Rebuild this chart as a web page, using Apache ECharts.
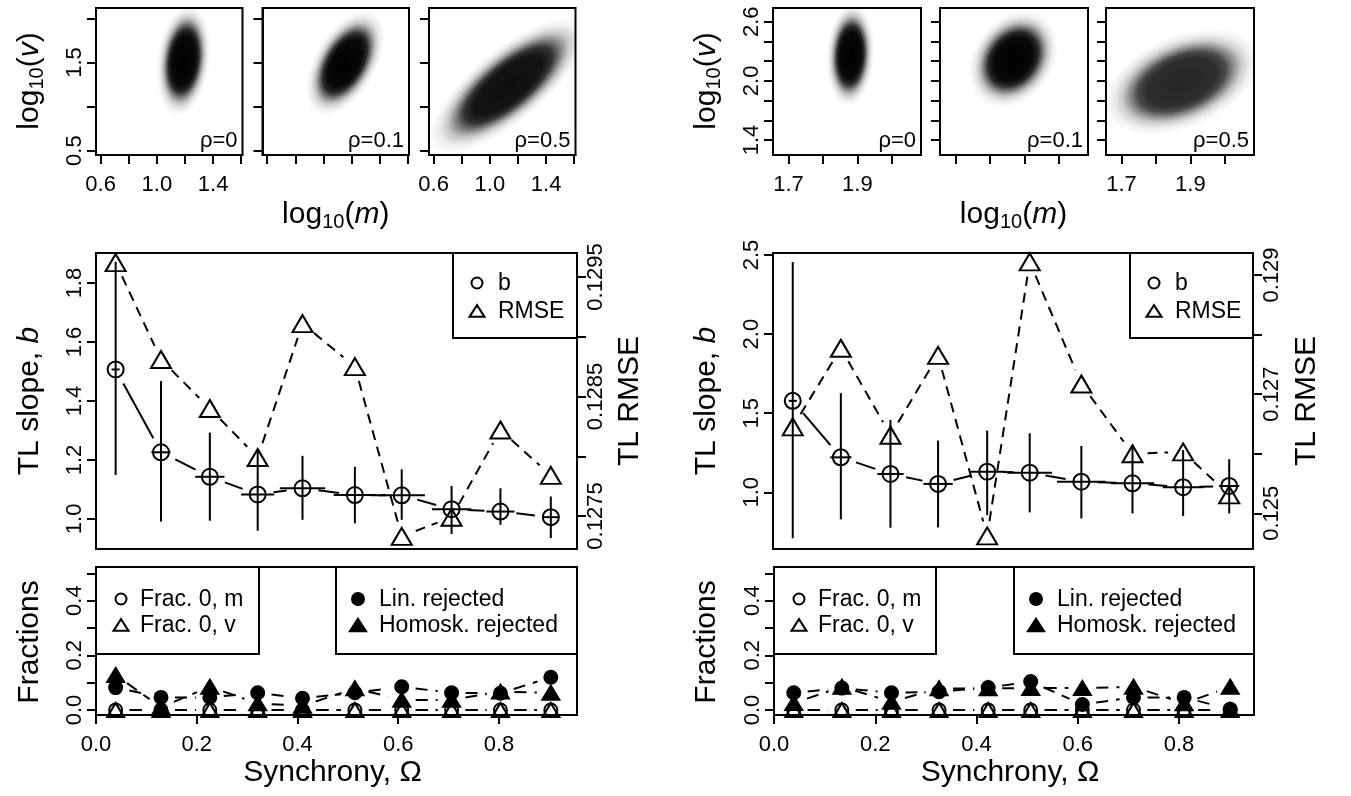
<!DOCTYPE html>
<html><head><meta charset="utf-8"><title>Taylor's law panels</title>
<script src="https://cdn.jsdelivr.net/npm/echarts@6/dist/echarts.min.js"></script>
<style>html,body{margin:0;padding:0;background:#fff}#chart{width:1351px;height:796px}</style>
</head><body><div id="chart"></div>
<script>
// ================= DATA =================
const rhoLabels = ['ρ=0', 'ρ=0.1', 'ρ=0.5'];
// point clouds summarised as bivariate densities
const cloudA_meanM = [1.19, 1.155, 1.13];
const cloudA_meanV = [1.52, 1.49, 1.24];
const cloudA_sdM   = [0.055, 0.08, 0.16];
const cloudA_sdV   = [0.18, 0.17, 0.22];
const cloudA_corr  = [0.2, 0.5, 0.75];
const cloudA_dark  = [1.0, 1.0, 0.95];
const cloudB_meanM = [1.88, 1.868, 1.875];
const cloudB_meanV = [2.26, 2.22, 1.99];
const cloudB_sdM   = [0.02, 0.037, 0.065];
const cloudB_sdV   = [0.15, 0.14, 0.155];
const cloudB_corr  = [0.1, 0.25, 0.4];
const cloudB_dark  = [1.0, 1.0, 0.85];

// left column
const omegaA     = [0.039, 0.129, 0.226, 0.321, 0.410, 0.514, 0.607, 0.706, 0.803, 0.903];
const omegaA_err = [0.008, 0.019, 0.029, 0.033, 0.045, 0.042, 0.046, 0.039, 0.028, 0.017];
const slopeA     = [1.507, 1.226, 1.143, 1.083, 1.104, 1.081, 1.080, 1.033, 1.025, 1.006];
const slopeA_lo  = [1.149, 0.991, 0.994, 0.960, 0.997, 0.985, 0.997, 0.949, 0.980, 0.935];
const slopeA_hi  = [1.872, 1.468, 1.293, 1.235, 1.214, 1.177, 1.168, 1.112, 1.104, 1.076];
const rmseA      = [0.12962, 0.12881, 0.12840, 0.12799, 0.12911, 0.12875, 0.12733, 0.12749, 0.12822, 0.12784];
const frac0mA    = [0, 0, 0, 0, 0, 0, 0, 0, 0, 0];
const frac0vA    = [0, 0, 0, 0, 0, 0, 0, 0, 0, 0];
const linRejA    = [0.082, 0.046, 0.046, 0.063, 0.043, 0.063, 0.085, 0.063, 0.061, 0.120];
const homRejA    = [0.128, 0.010, 0.085, 0.024, 0.015, 0.079, 0.037, 0.037, 0.067, 0.063];

// right column
const omegaB     = [0.039, 0.134, 0.232, 0.326, 0.423, 0.507, 0.609, 0.710, 0.810, 0.901];
const omegaB_err = [0.008, 0.021, 0.026, 0.029, 0.036, 0.044, 0.048, 0.043, 0.040, 0.020];
const slopeB     = [1.578, 1.221, 1.116, 1.053, 1.130, 1.124, 1.067, 1.057, 1.032, 1.040];
const slopeB_lo  = [0.709, 0.829, 0.776, 0.778, 0.856, 0.873, 0.835, 0.867, 0.850, 0.867];
const slopeB_hi  = [2.456, 1.627, 1.458, 1.327, 1.390, 1.373, 1.293, 1.299, 1.267, 1.209];
const rmseB      = [0.12645, 0.12777, 0.12631, 0.12765, 0.12462, 0.12922, 0.12717, 0.12600, 0.12603, 0.12531];
const frac0mB    = [0, 0, 0, 0, 0, 0, 0, 0, 0, 0];
const frac0vB    = [0, 0, 0, 0, 0, 0, 0, 0, 0, 0];
const linRejB    = [0.063, 0.080, 0.063, 0.067, 0.082, 0.104, 0.020, 0.046, 0.046, 0.003];
const homRejB    = [0.025, 0.085, 0.030, 0.079, 0.079, 0.080, 0.080, 0.085, 0.024, 0.085];

// tick values and tick labels
const topA_xTicks = [0.6, 0.8, 1.0, 1.2, 1.4, 1.6];   const topA_xLabels = ['0.6', '1.0', '1.4'];
const topA_yTicks = [0.5, 1.0, 1.5, 2.0];             const topA_yLabels = ['0.5', '1.5'];
const topB_xTicks = [1.7, 1.8, 1.9, 2.0];             const topB_xLabels = ['1.7', '1.9'];
const topB_yTicks = [1.4, 1.6, 1.8, 2.0, 2.2, 2.4, 2.6]; const topB_yLabels = ['1.4', '2.0', '2.6'];
const midA_yTicks = [1.0, 1.2, 1.4, 1.6, 1.8];        const midA_yLabels = ['1.0', '1.2', '1.4', '1.6', '1.8'];
const midA_rTicks = [0.1275, 0.128, 0.1285, 0.129, 0.1295]; const midA_rLabels = ['0.1275', '0.1285', '0.1295'];
const midB_yTicks = [1.0, 1.5, 2.0, 2.5];             const midB_yLabels = ['1.0', '1.5', '2.0', '2.5'];
const midB_rTicks = [0.125, 0.126, 0.127, 0.128, 0.129]; const midB_rLabels = ['0.125', '0.127', '0.129'];
const bot_yTicks = [0, 0.1, 0.2, 0.3, 0.4, 0.5];      const bot_yLabels = ['0.0', '0.2', '0.4'];
const bot_xTicks = [0, 0.2, 0.4, 0.6, 0.8];           const bot_xLabels = ['0.0', '0.2', '0.4', '0.6', '0.8'];

const legendMid = ['b', 'RMSE'];
const legendFrac0 = ['Frac. 0, m', 'Frac. 0, v'];
const legendRej = ['Lin. rejected', 'Homosk. rejected'];

// ================= LAYOUT / STYLE =================
const FONT = 'Liberation Sans';
const TICK_FS = 22, TITLE_FS = 30, LEG_FS = 23, RHO_FS = 22;
// [left, top, width, height]
const G = [
  [96, 8, 146.5, 147], [262.5, 8, 146.5, 147], [429, 8, 146.5, 147],
  [773, 8, 148, 147], [940, 8, 148, 147], [1106, 8, 148, 147],
  [96, 253, 481, 296], [773, 253, 480, 296],
  [96, 567, 481, 148], [774, 567, 480, 148]
];
const RANGE = {
  topAx: [0.567, 1.609], topAy: [0.451, 2.117],
  topBx: [1.655, 2.085], topBy: [1.248, 2.739],
  midAx: [0, 0.955], midBx: [0, 0.948],
  midAb: [0.898, 1.902], midAr: [0.127224, 0.129701],
  midBb: [0.6416, 2.5126], midBr: [0.124401, 0.129369],
  boty: [-0.0183, 0.523]
};

function fmtFrom(labels) {
  return function (v) {
    for (const l of labels) if (Math.abs(Number(l) - v) < 1e-7) return l;
    return '';
  };
}
function axis(kind, gi, range, ticks, labels, position, margin) {
  const a = {
    type: 'value', gridIndex: gi, min: range[0], max: range[1],
    axisLine: { show: true, onZero: false, lineStyle: { color: '#000', width: 2 } },
    axisTick: { show: true, inside: false, length: 9, lineStyle: { color: '#000', width: 2 }, customValues: ticks },
    axisLabel: {
      show: labels.length > 0, customValues: labels.length ? labels.map(Number) : ticks,
      formatter: fmtFrom(labels), color: '#000', fontFamily: FONT, fontSize: TICK_FS,
      margin: margin
    },
    splitLine: { show: false }
  };
  if (kind === 'y') a.axisLabel.rotate = 90;
  if (position) a.position = position;
  return a;
}

const grids = G.map(g => ({ left: g[0], top: g[1], width: g[2], height: g[3], show: true,
  borderColor: '#000', borderWidth: 2, backgroundColor: 'rgba(0,0,0,0)', containLabel: false }));

const xAxes = [
  axis('x', 0, RANGE.topAx, topA_xTicks, topA_xLabels, null, 19),
  axis('x', 1, RANGE.topAx, topA_xTicks, [], null, 19),
  axis('x', 2, RANGE.topAx, topA_xTicks, topA_xLabels, null, 19),
  axis('x', 3, RANGE.topBx, topB_xTicks, topB_xLabels, null, 19),
  axis('x', 4, RANGE.topBx, topB_xTicks, [], null, 19),
  axis('x', 5, RANGE.topBx, topB_xTicks, topB_xLabels, null, 19),
  Object.assign(axis('x', 6, RANGE.midAx, bot_xTicks, [], null, 19), { show: false }),
  Object.assign(axis('x', 7, RANGE.midBx, bot_xTicks, [], null, 19), { show: false }),
  axis('x', 8, RANGE.midAx, bot_xTicks, bot_xLabels, null, 19),
  axis('x', 9, RANGE.midBx, bot_xTicks, bot_xLabels, null, 19)
];
const yAxes = [
  axis('y', 0, RANGE.topAy, topA_yTicks, topA_yLabels, 'left', 10),
  axis('y', 1, RANGE.topAy, topA_yTicks, [], 'left', 10),
  axis('y', 2, RANGE.topAy, topA_yTicks, [], 'left', 10),
  axis('y', 3, RANGE.topBy, topB_yTicks, topB_yLabels, 'left', 10),
  axis('y', 4, RANGE.topBy, topB_yTicks, [], 'left', 10),
  axis('y', 5, RANGE.topBy, topB_yTicks, [], 'left', 10),
  axis('y', 6, RANGE.midAb, midA_yTicks, midA_yLabels, 'left', 10),   // 6
  axis('y', 6, RANGE.midAr, midA_rTicks, midA_rLabels, 'right', 8),   // 7
  axis('y', 7, RANGE.midBb, midB_yTicks, midB_yLabels, 'left', 10),   // 8
  axis('y', 7, RANGE.midBr, midB_rTicks, midB_rLabels, 'right', 8),   // 9
  axis('y', 8, RANGE.boty, bot_yTicks, bot_yLabels, 'left', 10),      // 10
  axis('y', 9, RANGE.boty, bot_yTicks, bot_yLabels, 'left', 10)       // 11
];

// ---------- series helpers ----------
const cloudProfile = [[0, 1], [0.44, 0.97], [0.56, 0.84], [0.66, 0.52], [0.76, 0.24], [0.87, 0.08], [1, 0]];
function cloudSeries(i, mm, mv, sm, sv, cr, dark) {
  const stops = cloudProfile.map(p => ({ offset: p[0], color: 'rgba(0,0,0,' + (p[1] * dark).toFixed(3) + ')' }));
  return {
    type: 'custom', xAxisIndex: i, yAxisIndex: i, z: 1, silent: true,
    data: [[mm, mv, sm, sv, cr]],
    renderItem: function (params, api) {
      const mx = api.value(0), my = api.value(1), sx = api.value(2), sy = api.value(3), r = api.value(4);
      const c = api.coord([mx, my]);
      const s = api.size([sx, sy], [mx, my]);
      const a = s[0] * s[0], d = s[1] * s[1], b = -r * s[0] * s[1];
      const tr = (a + d) / 2, df = Math.sqrt(((a - d) / 2) * ((a - d) / 2) + b * b);
      const l1 = tr + df, l2 = Math.max(tr - df, 1e-6);
      const th = 0.5 * Math.atan2(2 * b, a - d);
      const K = 3.5, cs = params.coordSys;
      return {
        type: 'group',
        clipPath: { type: 'rect', shape: { x: cs.x, y: cs.y, width: cs.width, height: cs.height } },
        children: [{
          type: 'circle', x: c[0], y: c[1], rotation: -th,
          scaleX: Math.sqrt(l1) * K / 100, scaleY: Math.sqrt(l2) * K / 100,
          shape: { cx: 0, cy: 0, r: 100 },
          style: { fill: { type: 'radial', x: 0.5, y: 0.5, r: 0.5, colorStops: stops } }
        }]
      };
    }
  };
}
// R type="b": segments joining points, with a gap around each point
function gapped(xi, yi, xs, ys, dash, gap) {
  const segs = [];
  for (let i = 0; i < xs.length - 1; i++) segs.push([xs[i], ys[i], xs[i + 1], ys[i + 1]]);
  return {
    type: 'custom', xAxisIndex: xi, yAxisIndex: yi, z: 3, silent: true, data: segs,
    renderItem: function (params, api) {
      const p0 = api.coord([api.value(0), api.value(1)]);
      const p1 = api.coord([api.value(2), api.value(3)]);
      const dx = p1[0] - p0[0], dy = p1[1] - p0[1], L = Math.hypot(dx, dy);
      if (L <= 2 * gap) return { type: 'group', children: [] };
      const ux = dx / L, uy = dy / L;
      return {
        type: 'line',
        shape: { x1: p0[0] + ux * gap, y1: p0[1] + uy * gap, x2: p1[0] - ux * gap, y2: p1[1] - uy * gap },
        style: { stroke: '#000', lineWidth: 2, lineDash: dash, fill: null }
      };
    }
  };
}
function errBars(xi, yi, om, omErr, b, lo, hi) {
  return {
    type: 'custom', xAxisIndex: xi, yAxisIndex: yi, z: 4, silent: true,
    data: om.map((o, i) => [o, b[i], lo[i], hi[i], omErr[i]]),
    renderItem: function (params, api) {
      const x = api.value(0), y = api.value(1), l = api.value(2), h = api.value(3), e = api.value(4);
      const p1 = api.coord([x, l]), p2 = api.coord([x, h]), p3 = api.coord([x - e, y]), p4 = api.coord([x + e, y]);
      const st = { stroke: '#000', lineWidth: 2 };
      return { type: 'group', children: [
        { type: 'line', shape: { x1: p1[0], y1: p1[1], x2: p2[0], y2: p2[1] }, style: st },
        { type: 'line', shape: { x1: p3[0], y1: p3[1], x2: p4[0], y2: p4[1] }, style: st }
      ] };
    }
  };
}
function pts(name, xi, yi, xs, ys, symbol, size, filled) {
  return {
    type: 'scatter', name: name, xAxisIndex: xi, yAxisIndex: yi, z: 5, silent: true,
    data: xs.map((x, i) => [x, ys[i]]), symbol: symbol, symbolSize: size,
    itemStyle: { color: filled ? '#000' : 'rgba(0,0,0,0)', borderColor: '#000', borderWidth: 2, opacity: 1 },
    emphasis: { disabled: true }
  };
}

const series = [];
for (let i = 0; i < 3; i++) {
  series.push(cloudSeries(i, cloudA_meanM[i], cloudA_meanV[i], cloudA_sdM[i], cloudA_sdV[i], cloudA_corr[i], cloudA_dark[i]));
  series.push(cloudSeries(i + 3, cloudB_meanM[i], cloudB_meanV[i], cloudB_sdM[i], cloudB_sdV[i], cloudB_corr[i], cloudB_dark[i]));
}
// middle panels
series.push(gapped(6, 7, omegaA, rmseA, [10, 7], 15));
series.push(gapped(6, 6, omegaA, slopeA, null, 16));
series.push(errBars(6, 6, omegaA, omegaA_err, slopeA, slopeA_lo, slopeA_hi));
series.push(pts('RMSE', 6, 7, omegaA, rmseA, 'triangle', [20, 17], false));
series.push(pts('b', 6, 6, omegaA, slopeA, 'circle', 16, false));
series.push(gapped(7, 9, omegaB, rmseB, [10, 7], 15));
series.push(gapped(7, 8, omegaB, slopeB, null, 16));
series.push(errBars(7, 8, omegaB, omegaB_err, slopeB, slopeB_lo, slopeB_hi));
series.push(pts('RMSE', 7, 9, omegaB, rmseB, 'triangle', [20, 17], false));
series.push(pts('b', 7, 8, omegaB, slopeB, 'circle', 16, false));
// bottom panels
[[8, 10, omegaA, frac0mA, frac0vA, linRejA, homRejA], [9, 11, omegaB, frac0mB, frac0vB, linRejB, homRejB]].forEach(p => {
  const [xi, yi, om, fm, fv, ln, hm] = p;
  [fm, fv, ln, hm].forEach(s => series.push(gapped(xi, yi, om, s, [12, 8], 14)));
  series.push(pts(legendFrac0[0], xi, yi, om, fm, 'circle', 13, false));
  series.push(pts(legendFrac0[1], xi, yi, om, fv, 'triangle', [17, 14], false));
  series.push(pts(legendRej[0], xi, yi, om, ln, 'circle', 13, true));
  series.push(pts(legendRej[1], xi, yi, om, hm, 'triangle', [17, 14], true));
});

// ---------- graphic: titles, labels, legends ----------
const graphics = [];
function rich(n) {
  return {
    n: { fontSize: n, fontFamily: FONT, fill: '#000' },
    i: { fontSize: n, fontFamily: FONT, fontStyle: 'italic', fill: '#000' },
    s: { fontSize: Math.round(n * 0.68), fontFamily: FONT, fill: '#000', padding: [14, 0, 0, 0] }
  };
}
function title(x, y, text, vertical) {
  graphics.push({
    type: 'text', x: x, y: y, z: 100, rotation: vertical ? Math.PI / 2 : 0,
    style: { text: text, rich: rich(TITLE_FS), fontSize: TITLE_FS, fontFamily: FONT, fill: '#000',
      align: 'center', verticalAlign: 'middle', textAlign: 'center', textVerticalAlign: 'middle' }
  });
}
const logV = '{n|log}{s|10}{n|(}{i|v}{n|)}';
const logM = '{n|log}{s|10}{n|(}{i|m}{n|)}';
title(30, 81, logV, true);
title(707, 81, logV, true);
title((G[0][0] + G[2][0] + G[2][2]) / 2, 215, logM, false);
title((G[3][0] + G[5][0] + G[5][2]) / 2, 215, logM, false);
title(30, 401, '{n|TL slope, }{i|b}', true);
title(707, 401, '{n|TL slope, }{i|b}', true);
title(630, 401, '{n|TL RMSE}', true);
title(1307, 401, '{n|TL RMSE}', true);
title(30, 642, '{n|Fractions}', true);
title(707, 642, '{n|Fractions}', true);
title(G[8][0] + G[8][2] / 2 - 4, 773, '{n|Synchrony, Ω}', false);
title(G[9][0] + G[9][2] / 2 - 4, 773, '{n|Synchrony, Ω}', false);

for (let i = 0; i < 6; i++) {
  const g = G[i];
  graphics.push({
    type: 'text', x: g[0] + g[2] - 5, y: g[1] + g[3] - 3, z: 100,
    style: { text: rhoLabels[i % 3], fontSize: RHO_FS, fontFamily: FONT, fill: '#000',
      align: 'right', verticalAlign: 'bottom', textAlign: 'right', textVerticalAlign: 'bottom' }
  });
}
function legBox(x, y, w, h) {
  graphics.push({ type: 'rect', z: 90, shape: { x: x, y: y, width: w, height: h },
    style: { fill: '#fff', stroke: '#000', lineWidth: 2 } });
}
function legSym(kind, x, y, size, filled) {
  const st = { fill: filled ? '#000' : '#fff', stroke: '#000', lineWidth: 2 };
  if (kind === 'circle') graphics.push({ type: 'circle', z: 101, shape: { cx: x, cy: y, r: size / 2 }, style: st });
  else graphics.push({ type: 'polygon', z: 101, shape: { points: [[x, y - size * 0.45], [x + size * 0.58, y + size * 0.45], [x - size * 0.58, y + size * 0.45]] }, style: st });
}
function legText(x, y, t) {
  graphics.push({ type: 'text', x: x, y: y, z: 101,
    style: { text: t, fontSize: LEG_FS, fontFamily: FONT, fill: '#000',
      align: 'left', verticalAlign: 'middle', textAlign: 'left', textVerticalAlign: 'middle' } });
}
// middle legends
[[453, 6], [1130, 7]].forEach(p => {
  const x0 = p[0], g = G[p[1]], right = g[0] + g[2];
  legBox(x0, g[1], right - x0, 85);
  legSym('circle', x0 + 24, g[1] + 30, 11, false); legText(x0 + 45, g[1] + 31, legendMid[0]);
  legSym('triangle', x0 + 24, g[1] + 58, 13, false); legText(x0 + 45, g[1] + 59, legendMid[1]);
});
// bottom legends
[[8, 96, 259, 336], [9, 774, 936, 1014]].forEach(p => {
  const g = G[p[0]], right = g[0] + g[2], top = g[1], h = 87;
  legBox(p[1], top, p[2] - p[1], h);
  legSym('circle', p[1] + 25, top + 32, 11, false); legText(p[1] + 44, top + 33, legendFrac0[0]);
  legSym('triangle', p[1] + 25, top + 58, 13, false); legText(p[1] + 44, top + 59, legendFrac0[1]);
  legBox(p[3], top, right - p[3], h);
  legSym('circle', p[3] + 22, top + 32, 12, true); legText(p[3] + 43, top + 33, legendRej[0]);
  legSym('triangle', p[3] + 22, top + 58, 14, true); legText(p[3] + 43, top + 59, legendRej[1]);
});

const chart = echarts.init(document.getElementById('chart'), null, { renderer: 'canvas' });
chart.setOption({
  animation: false,
  backgroundColor: '#fff',
  textStyle: { fontFamily: FONT },
  grid: grids,
  xAxis: xAxes,
  yAxis: yAxes,
  series: series,
  graphic: { elements: graphics }
});
</script></body></html>
